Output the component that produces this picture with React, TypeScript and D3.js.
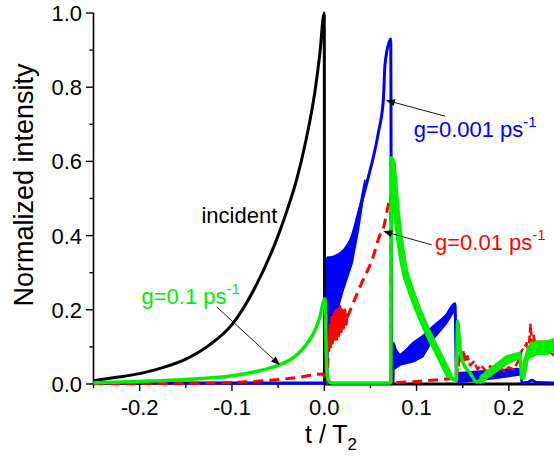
import React from "react";
import * as d3 from "d3";

type P = [number, number];
type B = [number, number, number];

const xTicks = [-0.2, -0.1, 0.0, 0.1, 0.2];
const xMinor = [-0.25, -0.15, -0.05, 0.05, 0.15, 0.25];
const yTicks = [0.0, 0.2, 0.4, 0.6, 0.8, 1.0];
const yMinor = [0.1, 0.3, 0.5, 0.7, 0.9];

const incident: P[] = [
  [-0.25, 0.009], [-0.225, 0.018], [-0.2, 0.028], [-0.175, 0.044], [-0.15, 0.067],
  [-0.125, 0.104], [-0.1, 0.16], [-0.075, 0.26], [-0.05, 0.4], [-0.04, 0.47],
  [-0.03, 0.55], [-0.02, 0.655], [-0.01, 0.79], [-0.005, 0.885], [0.0, 1.0],
  [0.0004, 0.0], [0.25, 0.0],
];

const blueLine: P[] = [
  [-0.25, 0.003], [0.003, 0.003], [0.0035, 0.34], [0.006, 0.34], [0.02, 0.357],
  [0.03, 0.397], [0.037, 0.46], [0.046, 0.541], [0.0585, 0.676], [0.064, 0.765],
  [0.0658, 0.86], [0.0705, 0.923], [0.072, 0.93], [0.073, 0.005], [0.0745, 0.005],
  [0.075, 0.11], [0.078, 0.08], [0.082, 0.078], [0.0965, 0.11], [0.107, 0.128],
  [0.118, 0.154], [0.1326, 0.186], [0.1416, 0.216], [0.1434, 0.011], [0.15, 0.016],
  [0.16, 0.02], [0.18, 0.03], [0.2, 0.038], [0.213, 0.04], [0.214, 0.003],
  [0.22, 0.004], [0.225, 0.01], [0.23, 0.004], [0.25, 0.003],
];
const blueBand1: B[] = [
  [0.004, 0.11, 0.34], [0.006, 0.127, 0.339], [0.0206, 0.253, 0.357],
  [0.0303, 0.326, 0.397], [0.037, 0.415, 0.46], [0.044, 0.53, 0.55],
];
const blueBand2: B[] = [
  [0.076, 0.04, 0.1], [0.082, 0.051, 0.078], [0.0965, 0.06, 0.11], [0.107, 0.074, 0.128],
  [0.118, 0.12, 0.154], [0.1326, 0.164, 0.186], [0.1416, 0.2, 0.216],
];
const blueBand3: B[] = [
  [0.145, 0.005, 0.03], [0.17, 0.01, 0.035], [0.2, 0.02, 0.04], [0.213, 0.025, 0.042],
];

const redSmooth1: P[] = [
  [-0.25, 0.0005], [-0.2, 0.001], [-0.15, 0.002], [-0.1, 0.004], [-0.06, 0.01],
  [-0.03, 0.017], [-0.001, 0.027], [0.001, 0.01], [0.003, 0.002], [0.0045, 0.13],
];
const redNoisy1: P[] = [
  [0.0045, 0.13], [0.0052, 0.09], [0.006, 0.16], [0.007, 0.1], [0.008, 0.18],
  [0.009, 0.11], [0.0102, 0.19], [0.0113, 0.12], [0.0125, 0.2], [0.0136, 0.12],
  [0.0148, 0.2], [0.016, 0.13], [0.0172, 0.21], [0.0185, 0.14], [0.0197, 0.2],
  [0.021, 0.15], [0.0225, 0.2], [0.024, 0.16], [0.025, 0.19],
];
const redSmooth2: P[] = [
  [0.025, 0.18], [0.0387, 0.262], [0.053, 0.343], [0.06, 0.4], [0.064, 0.42],
  [0.069, 0.478], [0.072, 0.505], [0.0725, 0.003], [0.08, 0.004], [0.1, 0.007],
  [0.12, 0.011], [0.14, 0.016], [0.144, 0.02],
];
const redNoisy2: P[] = [
  [0.144, 0.02], [0.1448, 0.075], [0.146, 0.05], [0.147, 0.085], [0.149, 0.06],
  [0.151, 0.09], [0.153, 0.06], [0.155, 0.075], [0.158, 0.05], [0.162, 0.06],
  [0.166, 0.04], [0.17, 0.05], [0.175, 0.035], [0.18, 0.048], [0.185, 0.04],
  [0.19, 0.045], [0.195, 0.035], [0.2, 0.045], [0.205, 0.04], [0.21, 0.06],
  [0.214, 0.09], [0.217, 0.1], [0.219, 0.11], [0.221, 0.085], [0.2235, 0.16],
  [0.225, 0.11], [0.227, 0.13], [0.229, 0.1], [0.232, 0.11], [0.236, 0.09],
  [0.24, 0.08], [0.245, 0.085], [0.25, 0.075],
];

const greenLine: P[] = [
  [-0.25, 0.0035], [-0.2, 0.007], [-0.15, 0.012], [-0.1, 0.022], [-0.075, 0.033],
  [-0.06, 0.042], [-0.05, 0.05], [-0.04, 0.061], [-0.03, 0.078], [-0.02, 0.104],
  [-0.01, 0.145], [-0.005, 0.178], [0.0008, 0.23], [0.0026, 0.038],
  [0.0043, 0.011], [0.008, 0.003], [0.072, 0.003], [0.0728, 0.61], [0.075, 0.6],
  [0.0784, 0.46], [0.0856, 0.325], [0.0964, 0.235], [0.111, 0.146], [0.1253, 0.074],
  [0.136, 0.02], [0.143, 0.01], [0.1445, 0.17], [0.147, 0.1], [0.1506, 0.056],
  [0.158, 0.03], [0.165, 0.006], [0.169, 0.011], [0.183, 0.038], [0.1976, 0.065],
  [0.212, 0.078], [0.214, 0.015], [0.2155, 0.015], [0.221, 0.092], [0.2265, 0.11],
  [0.2337, 0.1], [0.241, 0.11], [0.25, 0.12],
];
const greenThick: P[] = [
  [0.0735, 0.6], [0.0784, 0.46], [0.0856, 0.325], [0.0964, 0.235], [0.111, 0.146],
  [0.1253, 0.074], [0.136, 0.02],
];
const greenBand2: B[] = [
  [0.169, 0.003, 0.02], [0.183, 0.028, 0.048], [0.1976, 0.055, 0.075], [0.212, 0.07, 0.085],
];
const greenBand3: B[] = [
  [0.216, 0.02, 0.06], [0.221, 0.07, 0.1], [0.23, 0.08, 0.115], [0.24, 0.08, 0.115], [0.25, 0.09, 0.12],
];

const W = 554;
const H = 461;
const BLUE = "#0000ff";
const RED = "#ff0000";
const GREEN = "#00ee00";
const FONT = "'Liberation Sans', Arial, sans-serif";

export default function App() {
  const x = d3.scaleLinear().domain([-0.25, 0.25]).range([93.5, 555]);
  const y = d3.scaleLinear().domain([0, 1]).range([384, 13]);
  const line = d3.line<P>().x((d) => x(d[0])).y((d) => y(d[1]));
  const smooth = d3
    .line<P>()
    .x((d) => x(d[0]))
    .y((d) => y(d[1]))
    .curve(d3.curveMonotoneX);
  const area = d3
    .area<B>()
    .x((d) => x(d[0]))
    .y0((d) => y(d[1]))
    .y1((d) => y(d[2]));

  const arrow = (x1: number, y1: number, x2: number, y2: number, key: string) => {
    const X1 = x(x1), Y1 = y(y1), X2 = x(x2), Y2 = y(y2);
    const ang = Math.atan2(Y2 - Y1, X2 - X1);
    const L = 9, w = 3.5;
    const bx = X2 - L * Math.cos(ang), by = Y2 - L * Math.sin(ang);
    const p1 = [bx + w * Math.sin(ang), by - w * Math.cos(ang)];
    const p2 = [bx - w * Math.sin(ang), by + w * Math.cos(ang)];
    return (
      <g key={key}>
        <line x1={X1} y1={Y1} x2={bx} y2={by} stroke="#000" strokeWidth={0.9} />
        <path d={`M${X2},${Y2}L${p1[0]},${p1[1]}L${p2[0]},${p2[1]}Z`} fill="#000" />
      </g>
    );
  };

  const label = (tx: number, ty: number, main: string, color: string, key: string) => (
    <text key={key} x={x(tx)} y={y(ty)} fill={color} fontSize={22} fontFamily={FONT}>
      {main}
      <tspan fontSize={15} dy={-10}>-1</tspan>
    </text>
  );

  return (
    <svg width={W} height={H} style={{ position: "absolute", left: 0, top: 0, background: "#fff" }}>
      <defs>
        <clipPath id="plot">
          <rect x={93} y={0} width={W - 93} height={390} />
        </clipPath>
      </defs>
      <line x1={93.5} y1={384} x2={W} y2={384} stroke="#000" strokeWidth={1.6} />
      <line x1={93.5} y1={13} x2={93.5} y2={384} stroke="#000" strokeWidth={1.6} />
      {xTicks.map((t) => (
        <g key={"xt" + t}>
          <line x1={x(t)} x2={x(t)} y1={384} y2={391} stroke="#000" strokeWidth={1.4} />
          <text x={x(t)} y={415} textAnchor="middle" fontSize={22} fontFamily={FONT}>
            {t.toFixed(1)}
          </text>
        </g>
      ))}
      {xMinor.map((t) => (
        <line key={"xm" + t} x1={x(t)} x2={x(t)} y1={384} y2={388} stroke="#000" strokeWidth={1.4} />
      ))}
      {yTicks.map((t) => (
        <g key={"yt" + t}>
          <line x1={86} x2={93.5} y1={y(t)} y2={y(t)} stroke="#000" strokeWidth={1.4} />
          <text x={82} y={y(t) + 8} textAnchor="end" fontSize={22} fontFamily={FONT}>
            {t.toFixed(1)}
          </text>
        </g>
      ))}
      {yMinor.map((t) => (
        <line key={"ym" + t} x1={89.5} x2={93.5} y1={y(t)} y2={y(t)} stroke="#000" strokeWidth={1.4} />
      ))}
      <text
        transform="translate(33,185) rotate(-90)"
        textAnchor="middle"
        fontSize={27}
        fontFamily={FONT}
      >
        Normalized intensity
      </text>
      <text x={305} y={443} fontSize={25} fontFamily={FONT}>
        t / T<tspan fontSize={17} dy={7}>2</tspan>
      </text>

      <g clipPath="url(#plot)" fill="none" strokeLinejoin="round">
        <path d={smooth(incident)!} stroke="#000" strokeWidth={3} />
        <path d={smooth(blueLine)!} stroke={BLUE} strokeWidth={3} />
        {[blueBand1, blueBand2, blueBand3].map((b, i) => (
          <path key={"bb" + i} d={area(b)!} fill={BLUE} stroke={BLUE} strokeWidth={1.5} />
        ))}
        <path d={smooth(redSmooth1)!} stroke={RED} strokeWidth={3} strokeDasharray="10,6" />
        <path d={line(redNoisy1)!} stroke={RED} strokeWidth={2.5} />
        <path d={smooth(redSmooth2)!} stroke={RED} strokeWidth={3} strokeDasharray="10,6" />
        <path d={line(redNoisy2)!} stroke={RED} strokeWidth={2.5} strokeDasharray="8,3" />
        <path d={smooth(greenLine)!} stroke={GREEN} strokeWidth={3.5} />
        <path d={smooth(greenThick)!} stroke={GREEN} strokeWidth={7} />
        {[greenBand2, greenBand3].map((b, i) => (
          <path key={"gb" + i} d={area(b)!} fill={GREEN} stroke={GREEN} strokeWidth={2} />
        ))}
      </g>

      <text x={x(-0.133)} y={y(0.434)} fontSize={22} fontFamily={FONT} fill="#000">
        incident
      </text>
      {label(0.0971, 0.666, "g=0.001 ps", BLUE, "lb")}
      {label(0.12, 0.361, "g=0.01 ps", RED, "lr")}
      {label(-0.198, 0.216, "g=0.1 ps", GREEN, "lg")}
      {arrow(0.1308, 0.722, 0.0668, 0.765, "ab")}
      {arrow(0.1164, 0.375, 0.0639, 0.412, "ar")}
      {arrow(-0.1166, 0.208, -0.048, 0.051, "ag")}
    </svg>
  );
}
